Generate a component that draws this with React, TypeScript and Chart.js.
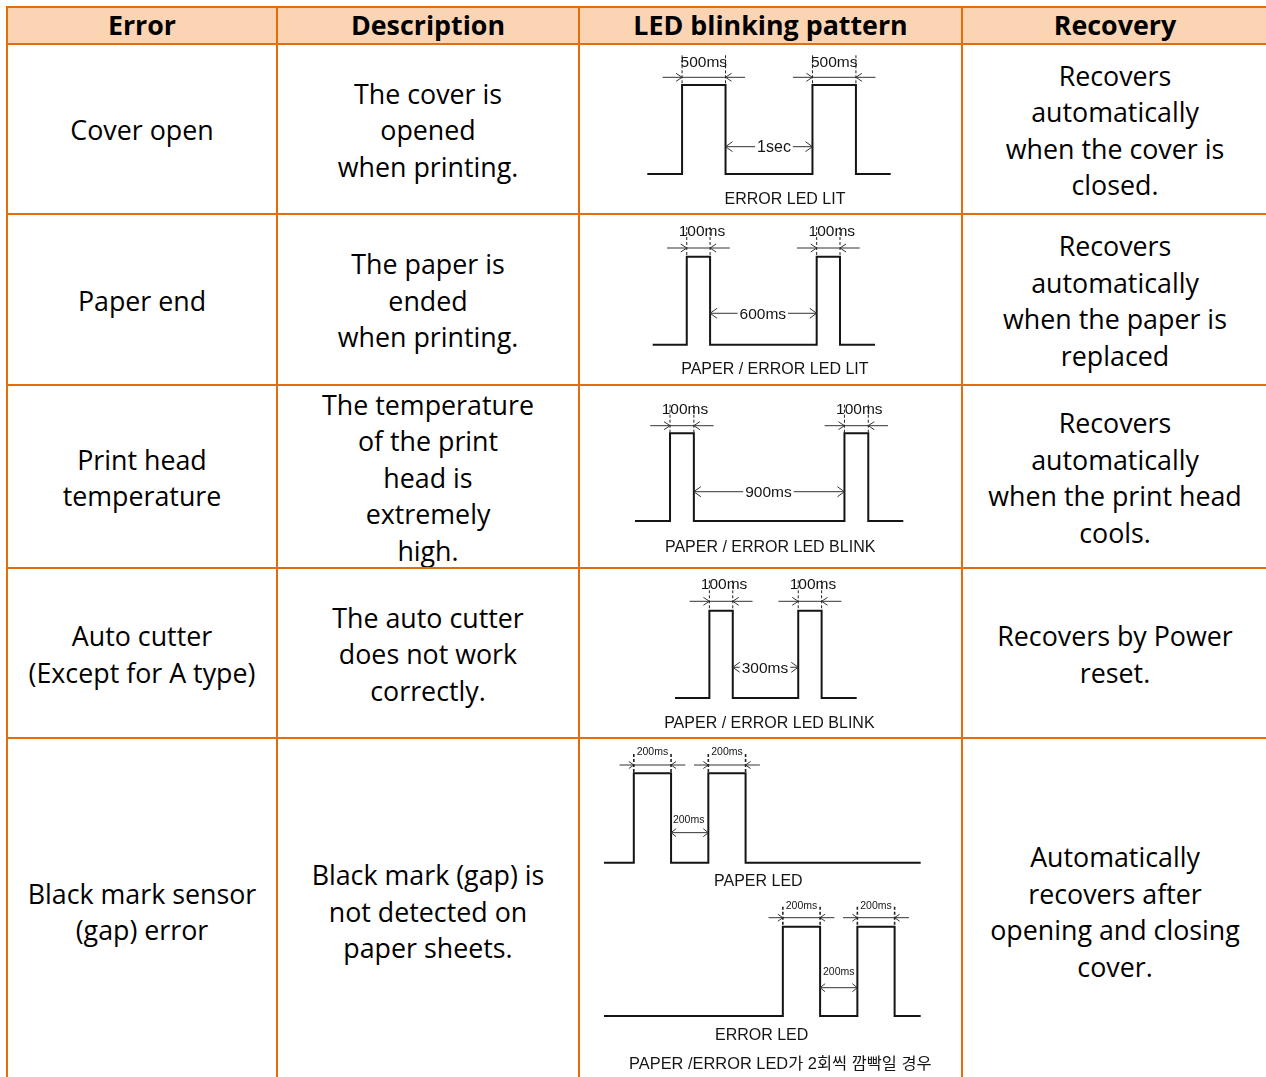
import React, { useEffect, useRef } from "react";
import { Chart, registerables } from "chart.js";

Chart.register(...registerables);

// ---------- table text ----------
const headers = ["Error", "Description", "LED blinking pattern", "Recovery"];
const errorNames = [
  ["Cover open"],
  ["Paper end"],
  ["Print head", "temperature"],
  ["Auto cutter", "(Except for A type)"],
  ["Black mark sensor", "(gap) error"],
];
const descriptions = [
  ["The cover is", "opened", "when printing."],
  ["The paper is", "ended", "when printing."],
  ["The temperature", "of the print", "head is", "extremely", "high."],
  ["The auto cutter", "does not work", "correctly."],
  ["Black mark (gap) is", "not detected on", "paper sheets."],
];
const recoveries = [
  ["Recovers", "automatically", "when the cover is", "closed."],
  ["Recovers", "automatically", "when the paper is", "replaced"],
  ["Recovers", "automatically", "when the print head", "cools."],
  ["Recovers by Power", "reset."],
  ["Automatically", "recovers after", "opening and closing", "cover."],
];

// ---------- waveform data (segment lengths as drawn: lead, on, off, on, tail) ----------
const coverOpenDurations = [400, 500, 1000, 500, 400];
const paperEndDurations = [146, 100, 457, 100, 150];
const headTempDurations = [147, 100, 632, 100, 147];
const cutterDurations = [147, 100, 280, 100, 150];
const paperLedDurations = [160, 200, 200, 200, 940];
const errorLedDurations = [960, 200, 200, 200, 140];

// timing labels: [pulse 1, gap, pulse 2]
const coverOpenTimes = ["500ms", "1sec", "500ms"];
const paperEndTimes = ["100ms", "600ms", "100ms"];
const headTempTimes = ["100ms", "900ms", "100ms"];
const cutterTimes = ["100ms", "300ms", "100ms"];
const paperLedTimes = ["200ms", "200ms", "200ms"];
const errorLedTimes = ["200ms", "200ms", "200ms"];

const ledLabels = [
  "ERROR LED LIT",
  "PAPER / ERROR LED LIT",
  "PAPER / ERROR LED BLINK",
  "PAPER / ERROR LED BLINK",
  "PAPER LED",
  "ERROR LED",
];
const blinkNote = "PAPER /ERROR LED가 2회씩 깜빡일 경우";

// ---------- layout ----------
const ORANGE = "#E46C0A";
const HEADER_BG = "#FBD4B4";
const colLineLefts = [6, 276, 578, 961, 1267];
const rowLineTops = [6, 43, 213, 384, 567, 737, 1082];

type Cfg = {
  durations: number[];
  times: string[];
  canvas: { left: number; top: number; width: number; height: number };
  wave: { x0: number; x1: number; yHigh: number; yLow: number };
  dimGap: number;
  ext: number;
  dashUp: number;
  dashWidth: number;
  arrow: { L: number; H: number };
  pulseText: { size: number; up: number; dx: number };
  gap: { level: number; inline: boolean; up: number; dx: number; size: number; L: number; H: number };
  labels: { text: string; dx: number; dy: number; size: number }[];
};

const FONT = '"Liberation Sans", Arial, "Noto Sans CJK KR", sans-serif';
const INK = "#151515";

function drawText(ctx: CanvasRenderingContext2D, text: string, cx: number, cy: number, size: number) {
  ctx.font = `${size}px ${FONT}`;
  ctx.fillStyle = INK;
  ctx.textAlign = "center";
  ctx.textBaseline = "alphabetic";
  ctx.fillText(text, cx, cy + 0.358 * size);
}

function chevron(ctx: CanvasRenderingContext2D, tx: number, ty: number, dir: number, L: number, H: number) {
  ctx.beginPath();
  ctx.moveTo(tx - dir * L, ty - H);
  ctx.lineTo(tx, ty);
  ctx.lineTo(tx - dir * L, ty + H);
  ctx.stroke();
}

function makeAnnotator(cfg: Cfg, edges: number[]) {
  return {
    id: "ledAnnot",
    afterDatasetsDraw(chart: any) {
      const ctx: CanvasRenderingContext2D = chart.ctx;
      const xs = chart.scales.x;
      const ys = chart.scales.y;
      const yh = ys.getPixelForValue(1);
      const yl = ys.getPixelForValue(0);
      ctx.save();
      // pulse width dimensions
      const pulses = [
        [edges[1], edges[2], cfg.times[0]],
        [edges[3], edges[4], cfg.times[2]],
      ] as [number, number, string][];
      for (const [a, b, label] of pulses) {
        const xa = xs.getPixelForValue(a);
        const xb = xs.getPixelForValue(b);
        const dimY = yh - cfg.dimGap;
        ctx.strokeStyle = "#333";
        ctx.lineWidth = 1;
        ctx.setLineDash([]);
        ctx.beginPath();
        ctx.moveTo(xa - cfg.ext, dimY);
        ctx.lineTo(xb + cfg.ext, dimY);
        ctx.stroke();
        chevron(ctx, xa, dimY, 1, cfg.arrow.L, cfg.arrow.H);
        chevron(ctx, xb, dimY, -1, cfg.arrow.L, cfg.arrow.H);
        ctx.setLineDash([3, 2]);
        ctx.lineWidth = cfg.dashWidth;
        ctx.strokeStyle = "#222";
        for (const x of [xa, xb]) {
          ctx.beginPath();
          ctx.moveTo(x, dimY - cfg.dashUp);
          ctx.lineTo(x, yh);
          ctx.stroke();
        }
        ctx.setLineDash([]);
        drawText(ctx, label, (xa + xb) / 2 + cfg.pulseText.dx, dimY - cfg.pulseText.up, cfg.pulseText.size);
      }
      // gap dimension
      const ga = xs.getPixelForValue(edges[2]);
      const gb = xs.getPixelForValue(edges[3]);
      const gy = ys.getPixelForValue(cfg.gap.level);
      const gcx = (ga + gb) / 2 + cfg.gap.dx;
      ctx.strokeStyle = "#333";
      ctx.lineWidth = 1;
      ctx.font = `${cfg.gap.size}px ${FONT}`;
      const tw = ctx.measureText(cfg.times[1]).width;
      ctx.beginPath();
      if (cfg.gap.inline) {
        ctx.moveTo(ga, gy);
        ctx.lineTo(gcx - tw / 2 - 2, gy);
        ctx.moveTo(gcx + tw / 2 + 2, gy);
        ctx.lineTo(gb, gy);
      } else {
        ctx.moveTo(ga, gy);
        ctx.lineTo(gb, gy);
      }
      ctx.stroke();
      chevron(ctx, ga, gy, -1, cfg.gap.L, cfg.gap.H);
      chevron(ctx, gb, gy, 1, cfg.gap.L, cfg.gap.H);
      drawText(ctx, cfg.times[1], gcx, cfg.gap.inline ? gy : gy - cfg.gap.up, cfg.gap.size);
      // captions
      const cx = (chart.chartArea.left + chart.chartArea.right) / 2;
      for (const lb of cfg.labels) {
        drawText(ctx, lb.text, cx + lb.dx, yl + lb.dy, lb.size);
      }
      ctx.restore();
    },
  };
}

function Waveform({ cfg }: { cfg: Cfg }) {
  const ref = useRef<HTMLCanvasElement>(null);
  useEffect(() => {
    const c = cfg.canvas;
    const w = cfg.wave;
    const edges = [0];
    cfg.durations.forEach((d) => edges.push(edges[edges.length - 1] + d));
    const points: { x: number; y: number }[] = [];
    cfg.durations.forEach((_, i) => {
      const level = i % 2;
      points.push({ x: edges[i], y: level });
      points.push({ x: edges[i + 1], y: level });
    });
    const chart = new Chart(ref.current as HTMLCanvasElement, {
      type: "line",
      data: {
        datasets: [
          {
            data: points,
            borderColor: INK,
            borderWidth: 2,
            pointRadius: 0,
            fill: false,
            tension: 0,
            clip: false as any,
          },
        ],
      },
      options: {
        responsive: false,
        animation: false,
        events: [],
        layout: {
          padding: {
            left: w.x0 - c.left,
            right: c.left + c.width - w.x1,
            top: w.yHigh - c.top,
            bottom: c.top + c.height - w.yLow,
          },
        },
        scales: {
          x: { type: "linear", min: 0, max: edges[edges.length - 1], display: false },
          y: { type: "linear", min: 0, max: 1, display: false },
        },
        plugins: { legend: { display: false }, tooltip: { enabled: false } },
      },
      plugins: [makeAnnotator(cfg, edges) as any],
    });
    return () => chart.destroy();
  }, [cfg]);
  const c = cfg.canvas;
  return (
    <canvas
      ref={ref}
      width={c.width}
      height={c.height}
      style={{ position: "absolute", left: c.left, top: c.top, width: c.width, height: c.height, display: "block" }}
    />
  );
}

const bigArrow = { L: 6, H: 4 };
const smallArrow = { L: 5, H: 3.5 };

const waveforms: Cfg[] = [
  {
    durations: coverOpenDurations,
    times: coverOpenTimes,
    canvas: { left: 580, top: 45, width: 381, height: 168 },
    wave: { x0: 647.3, x1: 890.7, yHigh: 85, yLow: 174 },
    dimGap: 7.7, ext: 19.5, dashUp: 22, dashWidth: 1, arrow: bigArrow,
    pulseText: { size: 15.5, up: 15.6, dx: 0 },
    gap: { level: 0.307, inline: true, up: 0, dx: 5, size: 16, L: 7, H: 5 },
    labels: [{ text: ledLabels[0], dx: 16, dy: 24, size: 16 }],
  },
  {
    durations: paperEndDurations,
    times: paperEndTimes,
    canvas: { left: 580, top: 215, width: 381, height: 169 },
    wave: { x0: 652.7, x1: 875, yHigh: 256.7, yLow: 344.7 },
    dimGap: 8.7, ext: 19.7, dashUp: 21, dashWidth: 1, arrow: bigArrow,
    pulseText: { size: 15.5, up: 17.3, dx: 3.5 },
    gap: { level: 0.357, inline: true, up: 0, dx: -0.6, size: 15.5, L: 7, H: 5 },
    labels: [{ text: ledLabels[1], dx: 11, dy: 23.6, size: 16 }],
  },
  {
    durations: headTempDurations,
    times: headTempTimes,
    canvas: { left: 580, top: 386, width: 381, height: 181 },
    wave: { x0: 635, x1: 903.3, yHigh: 433.3, yLow: 521 },
    dimGap: 7.6, ext: 19.8, dashUp: 21, dashWidth: 1, arrow: bigArrow,
    pulseText: { size: 15.5, up: 17.4, dx: 3 },
    gap: { level: 0.334, inline: true, up: 0, dx: -0.7, size: 15.5, L: 7, H: 5 },
    labels: [{ text: ledLabels[2], dx: 1, dy: 25, size: 16 }],
  },
  {
    durations: cutterDurations,
    times: cutterTimes,
    canvas: { left: 580, top: 569, width: 381, height: 168 },
    wave: { x0: 675, x1: 856.7, yHigh: 610.7, yLow: 698 },
    dimGap: 9.4, ext: 19.8, dashUp: 21, dashWidth: 1, arrow: bigArrow,
    pulseText: { size: 15.5, up: 17.6, dx: 3 },
    gap: { level: 0.352, inline: true, up: 0, dx: -0.5, size: 15.5, L: 7, H: 5 },
    labels: [{ text: ledLabels[3], dx: 3.5, dy: 24.3, size: 16 }],
  },
  {
    durations: paperLedDurations,
    times: paperLedTimes,
    canvas: { left: 580, top: 739, width: 381, height: 155 },
    wave: { x0: 604, x1: 920.7, yHigh: 773.3, yLow: 862.7 },
    dimGap: 8.3, ext: 14.3, dashUp: 11, dashWidth: 1.6, arrow: smallArrow,
    pulseText: { size: 10.5, up: 13.3, dx: 0 },
    gap: { level: 0.336, inline: false, up: 13.7, dx: -1, size: 10.5, L: 5, H: 4 },
    labels: [{ text: ledLabels[4], dx: -4, dy: 18, size: 16 }],
  },
  {
    durations: errorLedDurations,
    times: errorLedTimes,
    canvas: { left: 580, top: 894, width: 381, height: 188 },
    wave: { x0: 604, x1: 920.7, yHigh: 926.7, yLow: 1016 },
    dimGap: 9, ext: 14.3, dashUp: 11, dashWidth: 1.6, arrow: smallArrow,
    pulseText: { size: 10.5, up: 12.7, dx: 0 },
    gap: { level: 0.317, inline: false, up: 16.7, dx: 0, size: 10.5, L: 5, H: 4 },
    labels: [
      { text: ledLabels[5], dx: -0.7, dy: 18, size: 16 },
      { text: blinkNote, dx: 18, dy: 47.3, size: 16.4 },
    ],
  },
];

function Cell({ col, row, lines, bold }: { col: number; row: number; lines: string[]; bold?: boolean }) {
  const left = colLineLefts[col] + 2;
  const right = colLineLefts[col + 1];
  const top = rowLineTops[row] + 2;
  const bottom = rowLineTops[row + 1];
  return (
    <div
      style={{
        position: "absolute",
        left,
        top,
        width: right - left,
        height: bottom - top,
        display: "flex",
        alignItems: "center",
        justifyContent: "center",
        textAlign: "center",
        background: row === 0 ? HEADER_BG : "transparent",
        fontFamily: '"Open Sans", "Noto Sans", sans-serif',
        fontSize: 26.8,
        fontWeight: bold ? 700 : 400,
        lineHeight: "36.5px",
        color: "#000",
        whiteSpace: "nowrap",
      }}
    >
      <div style={{ position: "relative", top: row === 0 ? 0 : 1.5 }}>
        {lines.map((l, i) => (
          <div key={i}>{l}</div>
        ))}
      </div>
    </div>
  );
}

export default function App() {
  return (
    <div
      style={{
        position: "absolute",
        left: 0,
        top: 0,
        width: 1266,
        height: 1077,
        overflow: "hidden",
        background: "#fff",
      }}
    >
      {headers.map((h, c) => (
        <Cell key={"h" + c} col={c} row={0} lines={[h]} bold />
      ))}
      {errorNames.map((l, r) => (
        <Cell key={"e" + r} col={0} row={r + 1} lines={l} />
      ))}
      {descriptions.map((l, r) => (
        <Cell key={"d" + r} col={1} row={r + 1} lines={l} />
      ))}
      {recoveries.map((l, r) => (
        <Cell key={"r" + r} col={3} row={r + 1} lines={l} />
      ))}
      {waveforms.map((cfg, i) => (
        <Waveform key={"w" + i} cfg={cfg} />
      ))}
      {colLineLefts.map((x, i) => (
        <div
          key={"vl" + i}
          style={{ position: "absolute", left: x, top: rowLineTops[0], width: 2, height: rowLineTops[6] - rowLineTops[0] + 2, background: ORANGE }}
        />
      ))}
      {rowLineTops.map((y, i) => (
        <div
          key={"hl" + i}
          style={{ position: "absolute", left: colLineLefts[0], top: y, width: colLineLefts[4] - colLineLefts[0] + 2, height: 2, background: ORANGE }}
        />
      ))}
    </div>
  );
}
